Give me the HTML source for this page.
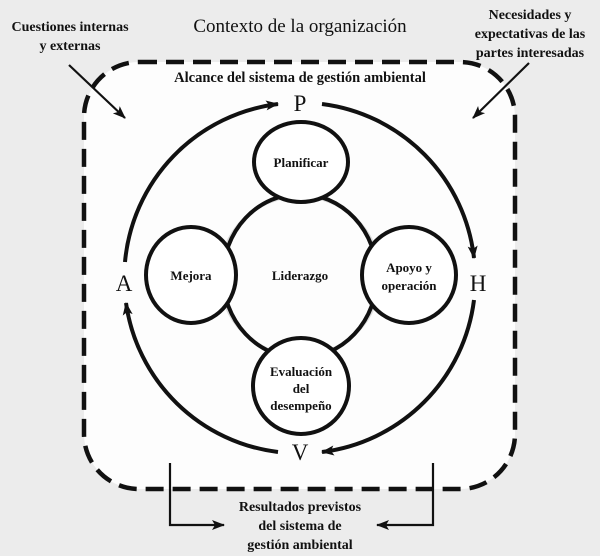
<!DOCTYPE html>
<html><head><meta charset="utf-8"><style>
html,body{margin:0;padding:0;background:#ececec;}
svg{display:block}
text{font-family:"Liberation Serif",serif;fill:#111;text-anchor:middle;}
.b{font-weight:600}
</style></head><body>
<svg width="600" height="556" viewBox="0 0 600 556" xmlns="http://www.w3.org/2000/svg">
<defs>
<marker id="ah" markerWidth="14" markerHeight="12" refX="12" refY="6" orient="auto" markerUnits="userSpaceOnUse">
<path d="M0,1 L13,6 L0,11 L3,6 Z" fill="#111"/>
</marker>
</defs>
<rect x="0" y="0" width="600" height="556" fill="#ececec"/>
<rect x="84" y="62" width="431" height="427" rx="55" fill="#fdfdfd" stroke="#111" stroke-width="4.5" stroke-dasharray="18 9"/>
<circle cx="300" cy="276" r="80" fill="none" stroke="#ddd" stroke-width="3"/>
<ellipse cx="300" cy="276" rx="77" ry="82" fill="none" stroke="#111" stroke-width="4"/>
<ellipse cx="301" cy="162" rx="47" ry="40" fill="#fff" stroke="#111" stroke-width="4"/>
<ellipse cx="191" cy="275" rx="45" ry="48" fill="#fff" stroke="#111" stroke-width="4"/>
<ellipse cx="409" cy="275" rx="47" ry="48" fill="#fff" stroke="#111" stroke-width="4"/>
<ellipse cx="301" cy="386" rx="48" ry="48" fill="#fff" stroke="#111" stroke-width="4"/>
<g fill="none" stroke="#111" stroke-width="4" marker-end="url(#ah)">
<path d="M125,262 A175,175 0 0 1 278,104"/>
<path d="M322,104 A175,175 0 0 1 474,258"/>
<path d="M474,300 A175,175 0 0 1 322,452"/>
<path d="M278,452 A175,175 0 0 1 126,303"/>
</g>
<g fill="none" stroke="#111" stroke-width="2.2" marker-end="url(#ah)">
<path d="M69,65 L125,118"/>
<path d="M529,63 L473,118"/>
<path d="M170,463 L170,525 L224,525"/>
<path d="M433,463 L433,525 L377,525"/>
</g>
<text x="300" y="111" font-size="23">P</text>
<text x="478" y="291" font-size="23">H</text>
<text x="124" y="291" font-size="23">A</text>
<text x="300" y="460" font-size="23">V</text>
<text x="300" y="32" font-size="19">Contexto de la organización</text>
<text class="b" x="70" y="31" font-size="14">Cuestiones internas</text>
<text class="b" x="70" y="50" font-size="14">y externas</text>
<text class="b" x="530" y="19" font-size="14">Necesidades y</text>
<text class="b" x="530" y="38" font-size="14">expectativas de las</text>
<text class="b" x="530" y="57" font-size="14">partes interesadas</text>
<text class="b" x="300" y="82" font-size="14.5">Alcance del sistema de gestión ambiental</text>
<text class="b" x="301" y="167" font-size="13">Planificar</text>
<text class="b" x="191" y="280" font-size="13">Mejora</text>
<text class="b" x="300" y="280" font-size="13">Liderazgo</text>
<text class="b" x="409" y="272" font-size="13">Apoyo y</text>
<text class="b" x="409" y="290" font-size="13">operación</text>
<text class="b" x="301" y="376" font-size="13">Evaluación</text>
<text class="b" x="301" y="393" font-size="13">del</text>
<text class="b" x="301" y="410" font-size="13">desempeño</text>
<text class="b" x="300" y="511" font-size="14">Resultados previstos</text>
<text class="b" x="300" y="530" font-size="14">del sistema de</text>
<text class="b" x="300" y="549" font-size="14">gestión ambiental</text>
</svg>
</body></html>
